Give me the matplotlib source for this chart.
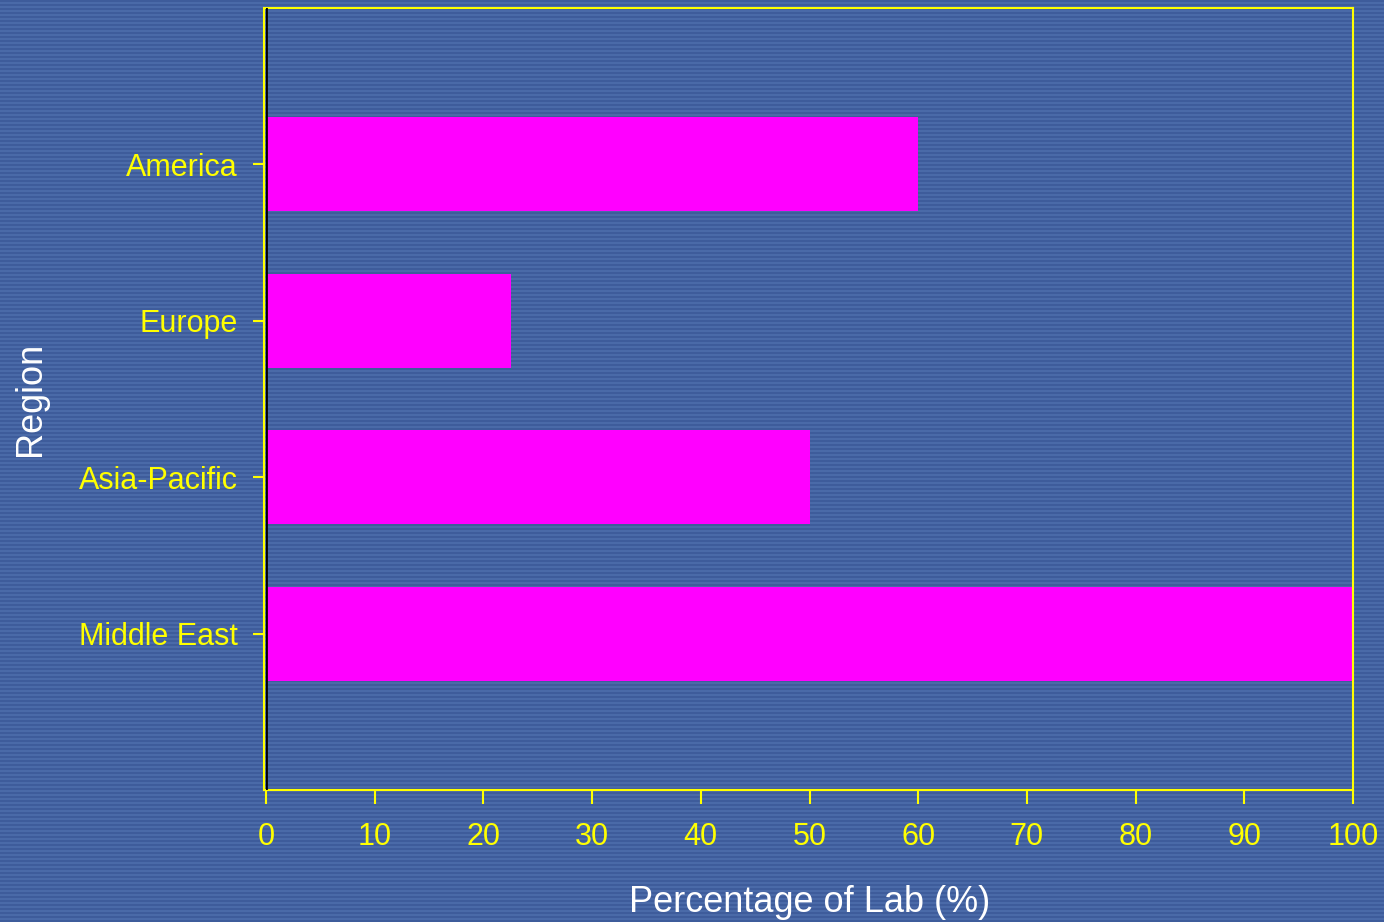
import numpy as np
import matplotlib
matplotlib.use("Agg")
import matplotlib.pyplot as plt

regions = ["Middle East", "Asia-Pacific", "Europe", "America"]
pct_lab = [100, 50, 22.5, 60]
xticks = [0, 10, 20, 30, 40, 50, 60, 70, 80, 90, 100]

plt.rcParams['font.family'] = ['Liberation Sans', 'DejaVu Sans']

fig = plt.figure(figsize=(13.84, 9.22), dpi=100)

# striped blue background
h, w = 922, 1384
dark = np.array([62, 92, 155]) / 255
light = np.array([74, 106, 168]) / 255
rows = np.arange(h)
bg = np.where(((rows // 2) % 2 == 0)[:, None, None], dark, light) * np.ones((h, w, 3))
fig.figimage(bg, xo=0, yo=0, zorder=-10)
fig.patch.set_alpha(0)

ax = fig.add_axes([266 / 1384, 1 - 790 / 922, (1353 - 266) / 1384, (790 - 8) / 922])
ax.set_facecolor('none')

pos = np.arange(1, len(regions) + 1)
ax.barh(pos, pct_lab, height=0.6, color='#ff00ff', zorder=2)
ax.axvline(0, color='black', lw=2, zorder=3)

ax.set_xlim(0, 100)
ax.set_ylim(0, len(regions) + 1)
ax.set_xticks(xticks)
ax.set_yticks(pos)
ax.set_yticklabels(regions)

for s in ax.spines.values():
    s.set_color('#ffff00')
    s.set_linewidth(1.5)
ax.spines['left'].set_position(('outward', 1.5))

ax.tick_params(axis='x', colors='#ffff00', labelsize=22, length=10, width=1.5, pad=13)
ax.tick_params(axis='y', colors='#ffff00', labelsize=22, length=8, width=1.5, pad=11)

ax.set_xlabel('Percentage of Lab (%)', color='white', fontsize=26, labelpad=24)
ax.set_ylabel('Region', color='white', fontsize=26, labelpad=22)

fig.savefig('out.png', dpi=100)
